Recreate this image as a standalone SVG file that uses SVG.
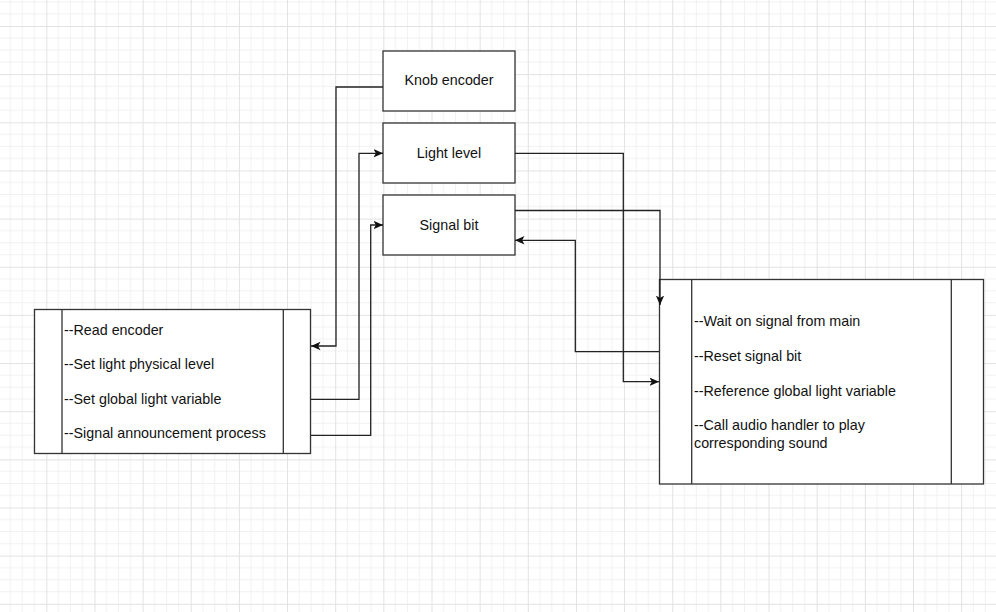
<svg xmlns="http://www.w3.org/2000/svg" width="996" height="612" viewBox="0 0 996 612">
<defs>
<pattern id="grid" patternUnits="userSpaceOnUse" x="-1.85" y="-22.15" width="48.15" height="48.15">
<path d="M12.04,0V48.15M24.08,0V48.15M36.11,0V48.15M0,12.04H48.15M0,24.08H48.15M0,36.11H48.15" stroke="#f1f1f1" stroke-width="1" fill="none"/>
<path d="M0.5,0V48.15M0,0.5H48.15" stroke="#e2e2e2" stroke-width="1" fill="none"/>
</pattern>
<marker id="arr" viewBox="0 0 10 10" refX="10" refY="5" markerWidth="9.5" markerHeight="9.5" markerUnits="userSpaceOnUse" orient="auto">
<path d="M0,0.6 L10,5 L0,9.4 L2.5,5 z" fill="#111"/>
</marker>
<style>
.box{fill:#fff;stroke:#333;stroke-width:1.3}
.div{stroke:#333;stroke-width:1.3;fill:none}
.lbl{font-family:"Liberation Sans",Arial,sans-serif;font-size:14.3px;fill:#111}
.mid{text-anchor:middle}
.con{fill:none;stroke:#222;stroke-width:1.3}
</style>
</defs>
<rect width="996" height="612" fill="#fff"/>
<rect width="996" height="612" fill="url(#grid)"/>

<g id="knob-encoder">
<rect class="box" x="383" y="51" width="132" height="60"/>
<text class="lbl mid" x="449" y="85">Knob encoder</text>
</g>
<g id="light-level">
<rect class="box" x="383" y="123" width="132" height="60"/>
<text class="lbl mid" x="449" y="158">Light level</text>
</g>
<g id="signal-bit">
<rect class="box" x="383" y="195" width="132" height="60"/>
<text class="lbl mid" x="449" y="230">Signal bit</text>
</g>
<g id="main-process">
<rect class="box" x="34.5" y="309.5" width="276" height="144"/>
<path class="div" d="M62,309.5V453.5M283.3,309.5V453.5"/>
<text class="lbl" x="64" y="334.5">--Read encoder</text>
<text class="lbl" x="64" y="369.2">--Set light physical level</text>
<text class="lbl" x="64" y="404">--Set global light variable</text>
<text class="lbl" x="64" y="438">--Signal announcement process</text>
</g>
<g id="announcement-process">
<rect class="box" x="659.5" y="279.5" width="324" height="204.5"/>
<path class="div" d="M691.7,279.5V484M951.3,279.5V484"/>
<text class="lbl" x="694" y="326">--Wait on signal from main</text>
<text class="lbl" x="694" y="361">--Reset signal bit</text>
<text class="lbl" x="694" y="396">--Reference global light variable</text>
<text class="lbl" x="694" y="429.5">--Call audio handler to play</text>
<text class="lbl" x="694" y="447.5">corresponding sound</text>
</g>

<g id="connectors">
<path class="con" d="M383,87H336V346H311" marker-end="url(#arr)"/>
<path class="con" d="M311,399.3H359V153.3H383" marker-end="url(#arr)"/>
<path class="con" d="M311,435.3H370.7V225H383" marker-end="url(#arr)"/>
<path class="con" d="M515,153.3H623.3V381.7H659" marker-end="url(#arr)"/>
<path class="con" d="M515,210.5H660V305" marker-end="url(#arr)"/>
<path class="con" d="M659,351.7H575.3V240.3H515" marker-end="url(#arr)"/>
</g>
</svg>
